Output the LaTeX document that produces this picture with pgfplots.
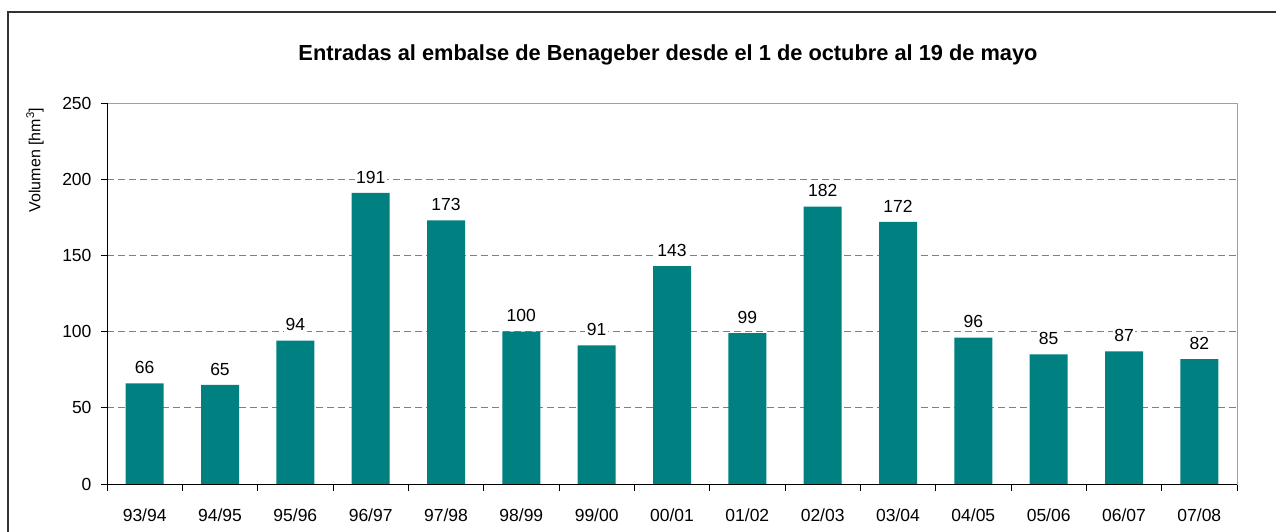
\documentclass[border=0pt]{standalone}
\usepackage{fontspec}
\setmainfont{Liberation Sans}
\usepackage{pgfplots}
\pgfplotsset{compat=1.18}
\definecolor{barteal}{RGB}{0,128,128}
\definecolor{gridgray}{RGB}{128,128,128}
\definecolor{axgray}{RGB}{160,160,160}
\begin{document}
\begin{tikzpicture}[x=1pt,y=1pt]
\clip (0,0) rectangle (1276,531);
\fill[white] (0,0) rectangle (1276,531);
\draw[line width=1.5pt, black!80] (8,-10) -- (8,519) -- (1290,519);
\node[font=\bfseries\fontsize{21.8}{26}\selectfont] at (668,476) {Entradas al embalse de Benageber desde el 1 de octubre al 19 de mayo};
\node[rotate=90, font=\fontsize{16}{19}\selectfont] at (35,371) {Volumen [hm\textsuperscript{3}]};
\begin{axis}[
  at={(107pt,47pt)}, anchor=south west,
  scale only axis, width=1130pt, height=381pt,
  ybar, bar width=38pt,
  ymin=0, ymax=250, ytick={0,50,...,250},
  xmin=-0.5, xmax=14.5,
  xtick={0,...,14},
  xticklabels={93/94,94/95,95/96,96/97,97/98,98/99,99/00,00/01,01/02,02/03,03/04,04/05,05/06,06/07,07/08},
  minor xtick={-0.5,0.5,...,14.5},
  major x tick style={draw=none},
  xtick pos=left, ytick pos=left,
  tick align=outside,
  major tick length=6pt, minor tick length=7pt,
  tick style={black, line width=0.8pt},
  axis line style={draw=axgray, line width=1pt},
  ymajorgrids,
  grid style={gridgray, dash pattern=on 7pt off 4pt, line width=0.8pt},
  /pgf/number format/assume math mode=true,
  ticklabel style={font=\fontsize{17.5}{21}\selectfont},
  xticklabel style={yshift=-15pt},
  yticklabel style={xshift=-6pt},
  nodes near coords,
  every node near coord/.append style={font=\fontsize{17.5}{21}\selectfont, fill=white, inner sep=1.5pt, yshift=8pt},
]
\addplot[fill=barteal, draw=none] coordinates {
(0,66) (1,65) (2,94) (3,191) (4,173) (5,100) (6,91) (7,143) (8,99) (9,182) (10,172) (11,96) (12,85) (13,87) (14,82)};
\draw[black, line width=1pt] (rel axis cs:0,1) -- (rel axis cs:0,0) -- (rel axis cs:1,0);
\end{axis}
\end{tikzpicture}
\end{document}
